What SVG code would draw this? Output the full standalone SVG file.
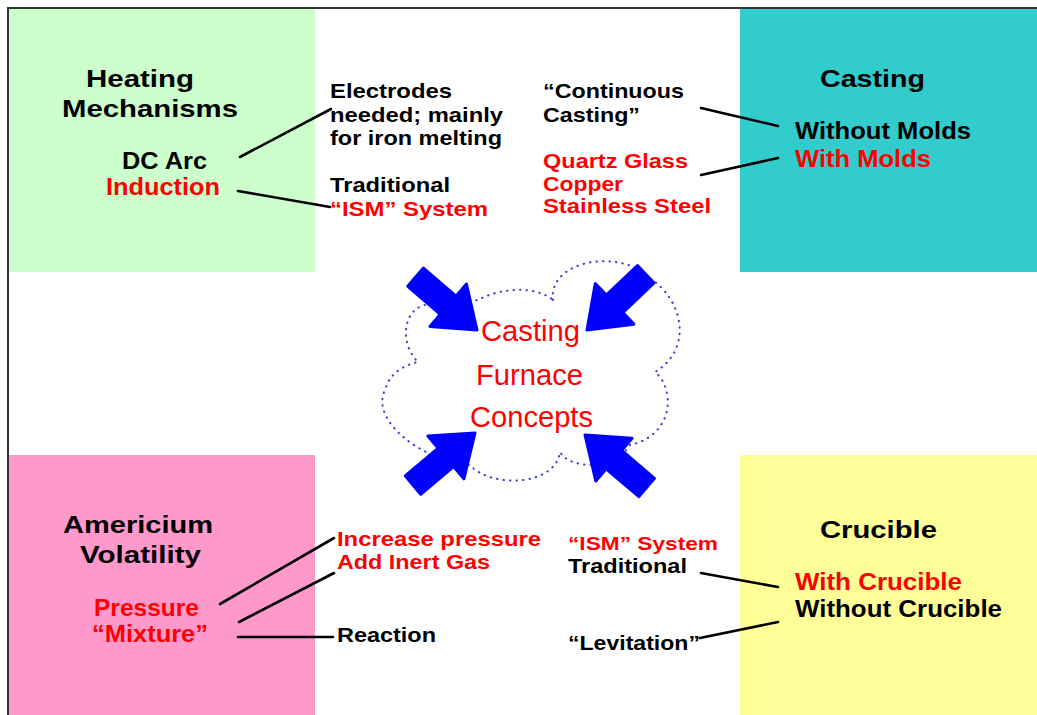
<svg xmlns="http://www.w3.org/2000/svg" width="1037" height="715" viewBox="0 0 1037 715">
  <style>
    text { font-family: "Liberation Sans", Arial, sans-serif; font-weight: bold; }
    .title { font-size: 24px; fill: #000; }
    .lbl { font-size: 23px; }
    .side { font-size: 20.5px; }
    .small { font-size: 19px; }
    .blk { fill: #000; }
    .red { fill: #ff0000; }
    .core { font-size: 29px; font-weight: normal; fill: #ff0000; }
    .conn { stroke: #000; stroke-width: 2.6; stroke-linecap: round; fill: none; }
    .cloud { fill: none; stroke: #3b3bdc; stroke-width: 2; stroke-dasharray: 0.5 6; stroke-linecap: round; }
    .arrow { fill: #0000ff; stroke: #0000ff; stroke-width: 3; stroke-linejoin: round; }
  </style>
  <defs>
    <!-- block arrow, tip at origin, pointing along +x -->
    <path id="blockArrow" d="M0,0 L-38,-28 L-38,-12 L-81,-12 L-81,12 L-38,12 L-38,28 Z"/>
  </defs>

  <rect x="0" y="0" width="1037" height="715" fill="#ffffff"/>
  <!-- outer frame -->
  <path d="M8,715 V8 H1037" fill="none" stroke="#333333" stroke-width="2"/>

  <g id="heating">
    <rect x="9" y="9" width="306" height="263" fill="#ccffcc"/>
    <text class="title" x="86" y="87" textLength="108" lengthAdjust="spacingAndGlyphs">Heating</text>
    <text class="title" x="62" y="117" textLength="176" lengthAdjust="spacingAndGlyphs">Mechanisms</text>
    <text class="lbl blk" x="122" y="169" textLength="85" lengthAdjust="spacingAndGlyphs">DC Arc</text>
    <text class="lbl red" x="106" y="195" textLength="114" lengthAdjust="spacingAndGlyphs">Induction</text>
    <text class="side blk" x="330" y="98" textLength="122" lengthAdjust="spacingAndGlyphs">Electrodes</text>
    <text class="side blk" x="330" y="122" textLength="173" lengthAdjust="spacingAndGlyphs">needed; mainly</text>
    <text class="side blk" x="330" y="145" textLength="172" lengthAdjust="spacingAndGlyphs">for iron melting</text>
    <text class="side blk" x="330" y="192" textLength="120" lengthAdjust="spacingAndGlyphs">Traditional</text>
    <text class="side red" x="330" y="216" textLength="158" lengthAdjust="spacingAndGlyphs">“ISM” System</text>
  </g>

  <g id="casting">
    <rect x="740" y="9" width="297" height="263" fill="#33cccc"/>
    <text class="title" x="820" y="87" textLength="105" lengthAdjust="spacingAndGlyphs">Casting</text>
    <text class="side blk" x="543" y="98" textLength="141" lengthAdjust="spacingAndGlyphs">“Continuous</text>
    <text class="side blk" x="543" y="122" textLength="97" lengthAdjust="spacingAndGlyphs">Casting”</text>
    <text class="side red" x="543" y="168" textLength="145" lengthAdjust="spacingAndGlyphs">Quartz Glass</text>
    <text class="side red" x="543" y="191" textLength="80" lengthAdjust="spacingAndGlyphs">Copper</text>
    <text class="side red" x="543" y="213" textLength="168" lengthAdjust="spacingAndGlyphs">Stainless Steel</text>
    <text class="lbl blk" x="795" y="139" textLength="176" lengthAdjust="spacingAndGlyphs">Without Molds</text>
    <text class="lbl red" x="795" y="167" textLength="136" lengthAdjust="spacingAndGlyphs">With Molds</text>
  </g>

  <g id="americium">
    <rect x="9" y="455" width="306" height="260" fill="#ff99cc"/>
    <text class="title" x="63" y="533" textLength="150" lengthAdjust="spacingAndGlyphs">Americium</text>
    <text class="title" x="80" y="563" textLength="121" lengthAdjust="spacingAndGlyphs">Volatility</text>
    <text class="lbl red" x="94" y="616" textLength="105" lengthAdjust="spacingAndGlyphs">Pressure</text>
    <text class="lbl red" x="92" y="642" textLength="116" lengthAdjust="spacingAndGlyphs">“Mixture”</text>
    <text class="side red" x="337" y="546" textLength="204" lengthAdjust="spacingAndGlyphs">Increase pressure</text>
    <text class="side red" x="337" y="569" textLength="153" lengthAdjust="spacingAndGlyphs">Add Inert Gas</text>
    <text class="side blk" x="337" y="642" textLength="99" lengthAdjust="spacingAndGlyphs">Reaction</text>
  </g>

  <g id="crucible">
    <rect x="740" y="455" width="297" height="260" fill="#ffff99"/>
    <text class="title" x="820" y="538" textLength="117" lengthAdjust="spacingAndGlyphs">Crucible</text>
    <text class="small red" x="568" y="550" textLength="150" lengthAdjust="spacingAndGlyphs">“ISM” System</text>
    <text class="side blk" x="568" y="573" textLength="119" lengthAdjust="spacingAndGlyphs">Traditional</text>
    <text class="side blk" x="568" y="650" textLength="132" lengthAdjust="spacingAndGlyphs">“Levitation”</text>
    <text class="lbl red" x="795" y="590" textLength="167" lengthAdjust="spacingAndGlyphs">With Crucible</text>
    <text class="lbl blk" x="795" y="617" textLength="207" lengthAdjust="spacingAndGlyphs">Without Crucible</text>
  </g>

  <g id="connectors">
    <line class="conn" x1="240" y1="157" x2="331" y2="109"/>
    <line class="conn" x1="238" y1="191" x2="330" y2="207"/>
    <line class="conn" x1="701" y1="108" x2="778" y2="126"/>
    <line class="conn" x1="701" y1="175" x2="778" y2="158"/>
    <line class="conn" x1="220" y1="604" x2="334" y2="538"/>
    <line class="conn" x1="239" y1="622" x2="334" y2="573"/>
    <line class="conn" x1="238" y1="637" x2="333" y2="637"/>
    <line class="conn" x1="701" y1="573" x2="778" y2="587"/>
    <line class="conn" x1="700" y1="638" x2="778" y2="622"/>
  </g>

  <g id="concepts">
    <path class="cloud" d="M553,300
      C548,260 620,248 650,278
      C685,302 692,350 655,372
      C675,388 675,435 630,445
      C615,470 570,470 560,452
      C555,487 490,488 470,465
      C420,460 370,420 385,390
      C390,372 405,365 418,362
      C400,345 402,310 425,305
      C450,298 465,302 478,300
      C500,288 535,285 553,300 Z"/>
    <use href="#blockArrow" class="arrow" transform="translate(477,330) rotate(40.7)"/>
    <use href="#blockArrow" class="arrow" transform="translate(587,330) rotate(136.5)"/>
    <use href="#blockArrow" class="arrow" transform="translate(475,433) rotate(-40)"/>
    <use href="#blockArrow" class="arrow" transform="translate(585,435) rotate(-139.6)"/>
    <text class="core" x="530.5" y="341" text-anchor="middle" textLength="99" lengthAdjust="spacingAndGlyphs">Casting</text>
    <text class="core" x="529.5" y="385" text-anchor="middle" textLength="107" lengthAdjust="spacingAndGlyphs">Furnace</text>
    <text class="core" x="531.5" y="427" text-anchor="middle" textLength="123" lengthAdjust="spacingAndGlyphs">Concepts</text>
  </g>
</svg>
